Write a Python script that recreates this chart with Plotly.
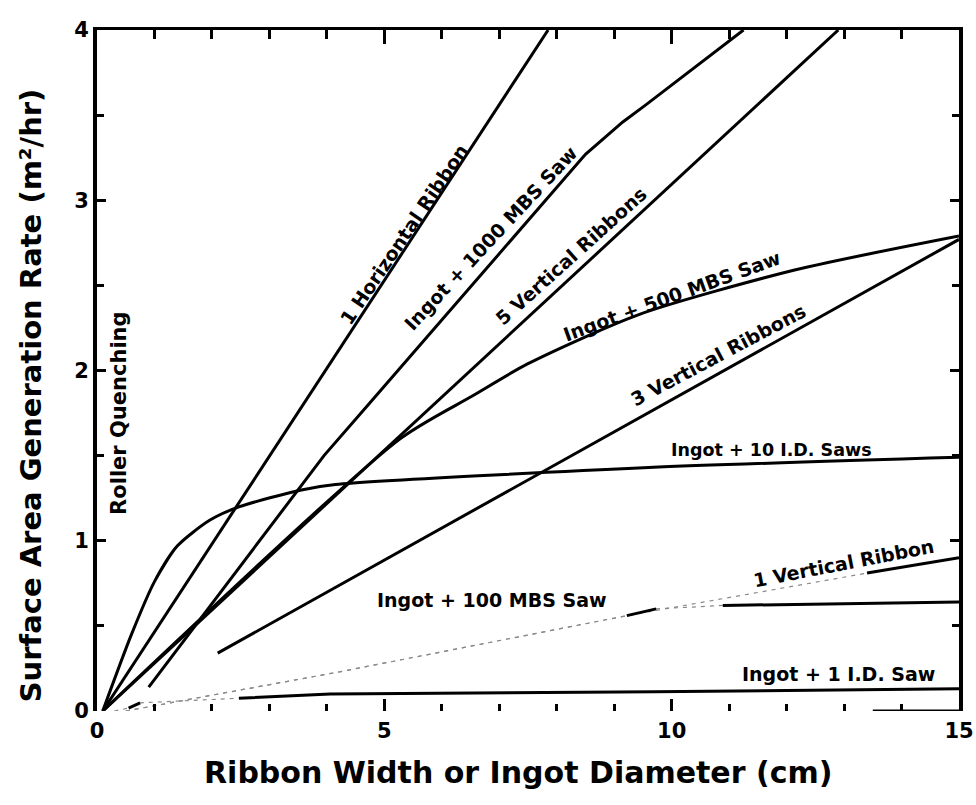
import plotly.graph_objects as go

# ---------------- data ----------------
horiz1_x = [0.1, 7.85]
horiz1_y = [0.0, 4.0]

ingot1000_x = [0.9, 3.95, 4.75, 8.5, 9.15, 9.55, 11.25]
ingot1000_y = [0.14, 1.50, 1.81, 3.27, 3.46, 3.56, 4.0]

vert5_x = [0.1, 12.9]
vert5_y = [0.0, 4.0]

ingot500_x = [0.1, 5.28, 6.53, 7.50, 9.44, 12.14, 15.0]
ingot500_y = [0.0, 1.60, 1.85, 2.04, 2.33, 2.59, 2.79]

vert3_x = [2.1, 15.0]
vert3_y = [0.34, 2.77]

ingot10_x = [0.1, 0.6, 1.0, 1.4, 1.96, 2.48, 3.58, 4.15, 9.6, 15.0]
ingot10_y = [0.0, 0.45, 0.76, 0.97, 1.12, 1.20, 1.30, 1.33, 1.43, 1.49]

vert1_x = [0.5, 4.22, 9.22, 13.4, 15.0]
vert1_y = [0.0, 0.23, 0.56, 0.81, 0.90]
vert1_solid = [(3, 4)]

ingot100_x = [0.5, 4.22, 9.22, 9.73, 10.89, 15.0]
ingot100_y = [0.0, 0.23, 0.56, 0.60, 0.62, 0.64]
ingot100_solid = [(2, 3), (4, 5)]

ingot1_x = [0.3, 0.55, 0.75, 2.47, 4.06, 9.7, 15.0]
ingot1_y = [0.0, 0.017, 0.048, 0.075, 0.10, 0.113, 0.13]
ingot1_solid = [(1, 2), (3, 6)]

# labels: text, x, y, angle, size
label_text = ["1 Horizontal Ribbon", "Ingot + 1000 MBS Saw", "5 Vertical Ribbons",
              "Ingot + 500 MBS Saw", "3 Vertical Ribbons", "Ingot + 10 I.D. Saws",
              "1 Vertical Ribbon", "Ingot + 100 MBS Saw", "Ingot + 1 I.D. Saw",
              "Roller Quenching"]
label_x = [5.35, 6.85, 8.25, 10.0, 10.81, 11.73, 13.0, 6.88, 12.91, 0.38]
label_y = [2.80, 2.78, 2.67, 2.44, 2.09, 1.535, 0.868, 0.65, 0.218, 1.75]
label_angle = [-56, -47, -42, -20, -28, 0, -11, 0, 0, -90]
label_size = [19, 19, 19, 19, 19, 17.5, 19, 19, 19, 21]

x_ticks = [0, 5, 10, 15]
y_ticks = [0, 1, 2, 3, 4]

# ---------------- figure ----------------
FONT = "DejaVu Sans"
fig = go.Figure()


def add_curve(x, y, solid=None, spline=False):
    shape = "spline" if spline else "linear"
    if solid is None:
        fig.add_trace(go.Scatter(x=x, y=y, mode="lines",
                                 line=dict(color="black", width=3, shape=shape, smoothing=0.7),
                                 hoverinfo="skip"))
        return
    fig.add_trace(go.Scatter(x=x, y=y, mode="lines",
                             line=dict(color="#8a8a8a", width=1.2, dash="4px,5px"),
                             hoverinfo="skip"))
    for i0, i1 in solid:
        fig.add_trace(go.Scatter(x=x[i0:i1 + 1], y=y[i0:i1 + 1], mode="lines",
                                 line=dict(color="black", width=3), hoverinfo="skip"))


add_curve(horiz1_x, horiz1_y)
add_curve(ingot1000_x, ingot1000_y)
add_curve(vert5_x, vert5_y)
add_curve(ingot500_x, ingot500_y, spline=True)
add_curve(vert3_x, vert3_y)
add_curve(ingot10_x, ingot10_y, spline=True)
add_curve(vert1_x, vert1_y, solid=vert1_solid)
add_curve(ingot100_x, ingot100_y, solid=ingot100_solid)
add_curve(ingot1_x, ingot1_y, solid=ingot1_solid)

# dummy trace for the top axis
fig.add_trace(go.Scatter(x=[None], y=[None], xaxis="x2", showlegend=False, hoverinfo="skip"))

for t, lx, ly, a, s in zip(label_text, label_x, label_y, label_angle, label_size):
    fig.add_annotation(x=lx, y=ly, xref="x", yref="y", text=t, showarrow=False,
                       textangle=a, xanchor="center", yanchor="middle",
                       font=dict(family=FONT, size=s, color="black", weight="bold"))

# axis titles
fig.add_annotation(x=0.488, y=-0.09, xref="paper", yref="paper",
                   xanchor="center", yanchor="middle",
                   text="Ribbon Width or Ingot Diameter (cm)", showarrow=False,
                   font=dict(family=FONT, size=30, color="black", weight="bold"))
fig.add_annotation(x=-0.077, y=0.463, xref="paper", yref="paper", textangle=-90,
                   xanchor="center", yanchor="middle",
                   text="Surface Area Generation Rate (m²/hr)", showarrow=False,
                   font=dict(family=FONT, size=29, color="black", weight="bold"))

# visible fragment of the bottom axis line
fig.add_shape(type="line", xref="x", yref="y", x0=13.5, x1=15, y0=0, y1=0,
              line=dict(color="black", width=3))

tickfont = dict(family=FONT, size=21, color="black", weight="bold")
fig.update_layout(
    width=976, height=805,
    margin=dict(l=97, r=17, t=30, b=94, autoexpand=False),
    paper_bgcolor="white", plot_bgcolor="white",
    showlegend=False,
    xaxis=dict(range=[0, 15], tickvals=x_ticks, ticks="inside", ticklen=12, tickwidth=3,
               tickcolor="black", showline=False, showgrid=False, zeroline=False,
               tickfont=tickfont, ticklabelstandoff=5, automargin=False,
               ticklabeloverflow="allow",
               minor=dict(dtick=1, ticks="inside", ticklen=7, tickwidth=3, tickcolor="black")),
    xaxis2=dict(range=[0, 15], overlaying="x", side="top", anchor="y", tickvals=x_ticks,
                ticks="inside", ticklen=14, tickwidth=3, tickcolor="black",
                showline=True, linewidth=3, linecolor="black", showgrid=False,
                zeroline=False, showticklabels=False, automargin=False,
                minor=dict(dtick=1, ticks="inside", ticklen=9, tickwidth=3, tickcolor="black")),
    yaxis=dict(range=[0, 4], tickvals=y_ticks, ticks="inside", ticklen=9, tickwidth=3,
               tickcolor="black", showline=True, linewidth=4, linecolor="black",
               mirror="ticks", showgrid=False, zeroline=False, tickfont=tickfont,
               automargin=False, ticklabeloverflow="allow",
               minor=dict(dtick=0.5, ticks="inside", ticklen=7, tickwidth=3, tickcolor="black")),
)

fig.write_html("out.html", config={"displayModeBar": False},
               post_script="document.body.style.margin='0';document.body.style.overflow='hidden';")
